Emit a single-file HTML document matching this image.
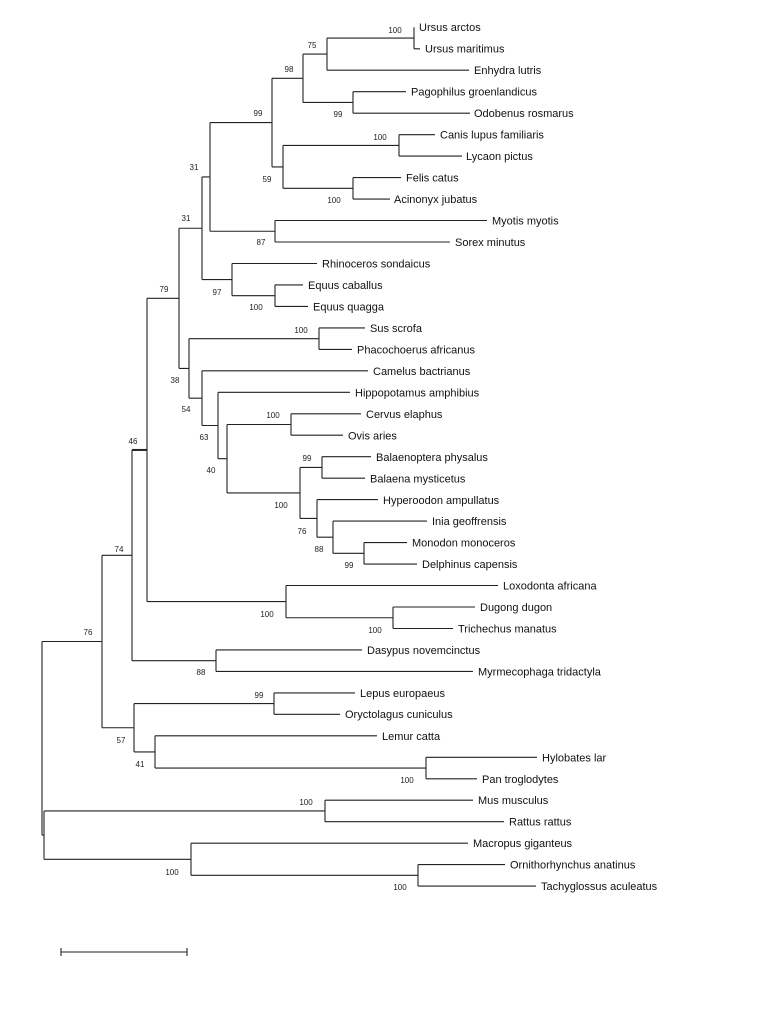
<!DOCTYPE html>
<html><head><meta charset="utf-8"><style>
html,body{margin:0;padding:0;background:#fff;width:768px;height:1024px;overflow:hidden}
svg{display:block}
.l{font-family:"Liberation Sans",sans-serif;font-size:11px;fill:#111}
.b{font-family:"Liberation Sans",sans-serif;font-size:8px;fill:#222;text-anchor:middle}
</style></head><body>
<svg width="768" height="1024" viewBox="0 0 768 1024" xmlns="http://www.w3.org/2000/svg">
<g fill="none" stroke="#222" stroke-width="1.1">
<path d="
M414 27.3V48.8 M414 27.3H414 M414 48.8H420
M327 38.05V70.2 M327 38.05H414 M327 70.2H469
M353 91.7V113.2 M353 91.7H406 M353 113.2H470
M303 54.1V102.45 M303 54.1H327 M303 102.45H353
M399 134.7V156.1 M399 134.7H435 M399 156.1H462
M353 177.6V199.1 M353 177.6H401 M353 199.1H390
M283 145.4V188.35 M283 145.4H399 M283 188.35H353
M272 78.3V166.9 M272 78.3H303 M272 166.9H283
M275 220.5V242 M275 220.5H487 M275 242H450
M210 122.6V231.25 M210 122.6H272 M210 231.25H275
M275 284.9V306.4 M275 284.9H303 M275 306.4H308
M232 263.5V295.65 M232 263.5H317 M232 295.65H275
M202 176.9V279.6 M202 176.9H210 M202 279.6H232
M319 327.9V349.4 M319 327.9H365 M319 349.4H352
M291 413.8V435.2 M291 413.8H361 M291 435.2H343
M322 456.7V478.2 M322 456.7H371 M322 478.2H365
M364 542.6V564.1 M364 542.6H407 M364 564.1H417
M333 521.1V553.35 M333 521.1H427 M333 553.35H364
M317 499.6V537.2 M317 499.6H378 M317 537.2H333
M300 467.45V518.4 M300 467.45H322 M300 518.4H317
M227 424.5V492.9 M227 424.5H291 M227 492.9H300
M218 392.3V458.7 M218 392.3H350 M218 458.7H227
M202 370.8V425.5 M202 370.8H368 M202 425.5H218
M189 338.65V398.15 M189 338.65H319 M189 398.15H202
M179 228.25V368.4 M179 228.25H202 M179 368.4H189
M393 607V628.5 M393 607H475 M393 628.5H453
M286 585.5V617.75 M286 585.5H498 M286 617.75H393
M147 298.3V601.6 M147 298.3H179 M147 601.6H286
M216 649.9V671.4 M216 649.9H362 M216 671.4H473
M132 449.95V660.65 M132 660.65H216
M274 692.9V714.3 M274 692.9H355 M274 714.3H340
M426 757.3V778.8 M426 757.3H537 M426 778.8H477
M155 735.8V768.05 M155 735.8H377 M155 768.05H426
M134 703.6V751.9 M134 703.6H274 M134 751.9H155
M102 555.3V727.75 M102 555.3H132 M102 727.75H134
M325 800.2V821.7 M325 800.2H473 M325 821.7H504
M418 864.6V886.1 M418 864.6H505 M418 886.1H536
M191 843.2V875.35 M191 843.2H468 M191 875.35H418
M44 810.95V859.3 M44 810.95H325 M44 859.3H191
M42 641.5V835.1 M42 641.5H102 M42 835.1H44
M61 952H187 M61 948V956 M187 948V956"/>
<path d="M132 449.95H147" stroke-width="2"/>
</g>
<g class="l">
<text x="419" y="31">Ursus arctos</text>
<text x="425" y="52.5">Ursus maritimus</text>
<text x="474" y="74">Enhydra lutris</text>
<text x="411" y="95.5">Pagophilus groenlandicus</text>
<text x="474" y="117">Odobenus rosmarus</text>
<text x="440" y="138.5">Canis lupus familiaris</text>
<text x="466" y="160">Lycaon pictus</text>
<text x="406" y="181.5">Felis catus</text>
<text x="394" y="203">Acinonyx jubatus</text>
<text x="492" y="224.5">Myotis myotis</text>
<text x="455" y="246">Sorex minutus</text>
<text x="322" y="267.5">Rhinoceros sondaicus</text>
<text x="308" y="289">Equus caballus</text>
<text x="313" y="310.5">Equus quagga</text>
<text x="370" y="332">Sus scrofa</text>
<text x="357" y="353.5">Phacochoerus africanus</text>
<text x="373" y="375">Camelus bactrianus</text>
<text x="355" y="396.5">Hippopotamus amphibius</text>
<text x="366" y="418">Cervus elaphus</text>
<text x="348" y="439.5">Ovis aries</text>
<text x="376" y="461">Balaenoptera physalus</text>
<text x="370" y="482.5">Balaena mysticetus</text>
<text x="383" y="504">Hyperoodon ampullatus</text>
<text x="432" y="525">Inia geoffrensis</text>
<text x="412" y="546.5">Monodon monoceros</text>
<text x="422" y="568">Delphinus capensis</text>
<text x="503" y="589.5">Loxodonta africana</text>
<text x="480" y="611">Dugong dugon</text>
<text x="458" y="632.5">Trichechus manatus</text>
<text x="367" y="654">Dasypus novemcinctus</text>
<text x="478" y="675.5">Myrmecophaga tridactyla</text>
<text x="360" y="697">Lepus europaeus</text>
<text x="345" y="718">Oryctolagus cuniculus</text>
<text x="382" y="740">Lemur catta</text>
<text x="542" y="761.5">Hylobates lar</text>
<text x="482" y="783">Pan troglodytes</text>
<text x="478" y="804">Mus musculus</text>
<text x="509" y="825.5">Rattus rattus</text>
<text x="473" y="847">Macropus giganteus</text>
<text x="510" y="868.5">Ornithorhynchus anatinus</text>
<text x="541" y="890">Tachyglossus aculeatus</text>
</g>
<g class="b">
<text x="395" y="33">100</text>
<text x="312" y="48">75</text>
<text x="289" y="72">98</text>
<text x="338" y="117">99</text>
<text x="258" y="116">99</text>
<text x="380" y="140">100</text>
<text x="267" y="182">59</text>
<text x="334" y="203">100</text>
<text x="194" y="170">31</text>
<text x="261" y="245">87</text>
<text x="186" y="221">31</text>
<text x="217" y="295">97</text>
<text x="256" y="310">100</text>
<text x="164" y="292">79</text>
<text x="301" y="333">100</text>
<text x="175" y="383">38</text>
<text x="186" y="412">54</text>
<text x="204" y="440">63</text>
<text x="273" y="418">100</text>
<text x="211" y="473">40</text>
<text x="307" y="461">99</text>
<text x="281" y="508">100</text>
<text x="302" y="534">76</text>
<text x="319" y="552">88</text>
<text x="349" y="568">99</text>
<text x="133" y="444">46</text>
<text x="119" y="552">74</text>
<text x="267" y="617">100</text>
<text x="375" y="633">100</text>
<text x="88" y="635">76</text>
<text x="201" y="675">88</text>
<text x="259" y="698">99</text>
<text x="121" y="743">57</text>
<text x="140" y="767">41</text>
<text x="407" y="783">100</text>
<text x="306" y="805">100</text>
<text x="172" y="875">100</text>
<text x="400" y="890">100</text>
</g>
</svg>
</body></html>
